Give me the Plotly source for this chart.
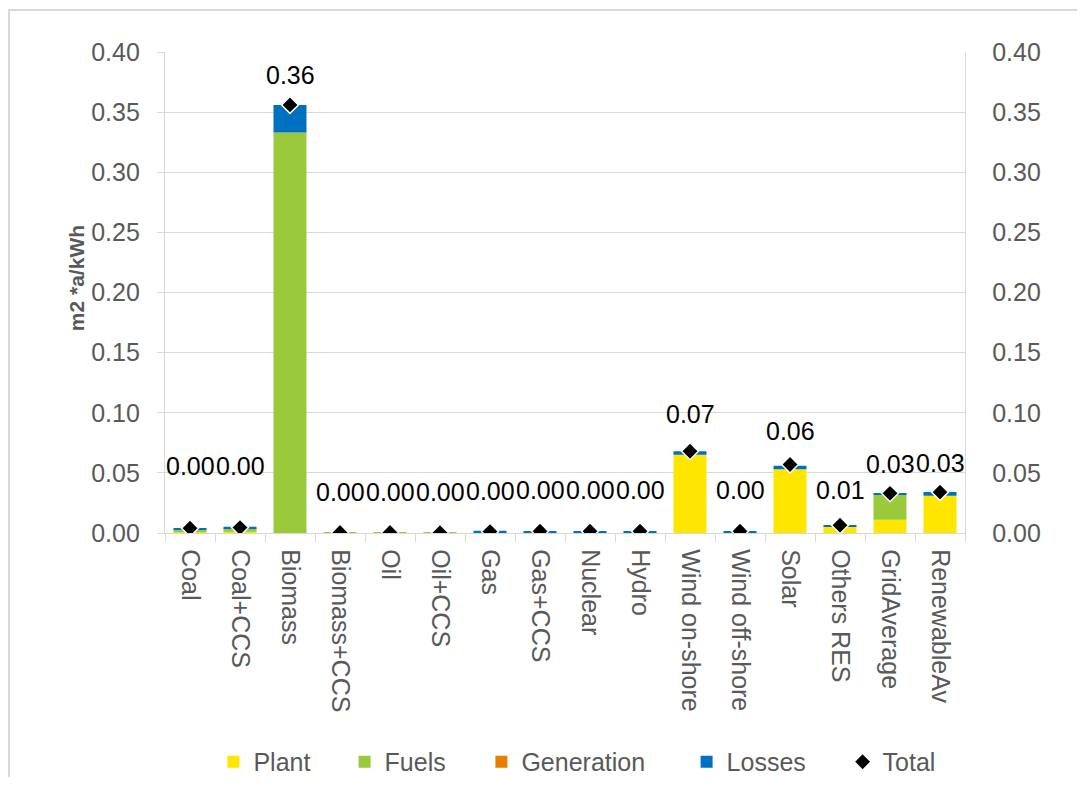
import plotly.graph_objects as go

CATS = ["Coal", "Coal+CCS", "Biomass", "Biomass+CCS", "Oil", "Oil+CCS", "Gas",
        "Gas+CCS", "Nuclear", "Hydro", "Wind on-shore", "Wind off-shore", "Solar",
        "Others RES", "GridAverage", "RenewableAv"]
PLANT = [0.0006, 0.0010, 0.0, 0.0, 0.0, 0.0, 0.0008, 0.0005, 0.0005, 0.0005,
         0.065, 0.0005, 0.053, 0.0050, 0.011, 0.031]
FUELS = [0.0020, 0.0030, 0.333, 0.0004, 0.0004, 0.0002, 0.0, 0.0, 0.0, 0.0,
         0.0, 0.0, 0.0, 0.0, 0.021, 0.0]
GENERATION = [0.0, 0.0, 0.0, 0.0, 0.0, 0.0, -0.0006, 0.0, 0.0, 0.0,
              0.0, 0.0, 0.0, 0.0, 0.0, 0.0]
LOSSES = [0.0012, 0.0012, 0.023, 0.0, 0.0, 0.0, 0.0010, 0.0010, 0.0010, 0.0010,
          0.003, 0.0010, 0.003, 0.0015, 0.001, 0.003]
TOTAL = [0.0040, 0.0045, 0.356, 0.0004, 0.0004, 0.0002, 0.0012, 0.0015, 0.0015, 0.0015,
         0.068, 0.0015, 0.057, 0.0065, 0.033, 0.034]
LABEL_SHIFT = [62, 62, 30, 41, 41, 41, 41, 41, 41, 41, 37, 41, 33, 35, 29, 29]  # px above marker

GREY = "#595959"
GRID = "#D9D9D9"
FONT = "Liberation Sans, Arial, sans-serif"

# one legend per entry so the spacing can follow the Excel original
LEG_X = [0.0605, 0.2245, 0.3955, 0.652, 0.847]
LEG_IDS = ["legend", "legend2", "legend3", "legend4", "legend5"]

fig = go.Figure()
series = [("Plant", PLANT, "#FFE600"), ("Fuels", FUELS, "#9ACA3C"),
          ("Generation", GENERATION, "#E67E00"), ("Losses", LOSSES, "#0070C0")]
for (name, vals, col), lg in zip(series, LEG_IDS):
    fig.add_trace(go.Bar(x=CATS, y=vals, name=name, legend=lg,
                         marker=dict(color=col, line_width=0), width=0.66))
fig.add_trace(go.Scatter(x=CATS, y=TOTAL, name="Total", mode="markers", yaxis="y2",
                         legend=LEG_IDS[4],
                         marker=dict(symbol="diamond", size=13, color="black",
                                     line=dict(color="white", width=1.5))))

for c, t, s in zip(CATS, TOTAL, LABEL_SHIFT):
    fig.add_annotation(x=c, y=t, yref="y2", text=f"{t:.2f}", showarrow=False,
                       yshift=s, font=dict(size=25, color="black", family=FONT))

fig.add_annotation(x=-0.128, y=0.53, xref="paper", yref="paper", text="<b>m2 *a/kWh</b>",
                   textangle=-90, showarrow=False,
                   font=dict(size=21, color=GREY, family=FONT))

ax = dict(range=[0, 0.40], dtick=0.05, tickformat=".2f", showline=True, linecolor=GRID,
          linewidth=1.3, tickfont=dict(size=25, color=GREY), zeroline=False)
layout_legends = {}
for lg, x in zip(LEG_IDS, LEG_X):
    layout_legends[lg] = dict(orientation="h", x=x, xanchor="left", y=-0.476,
                              yanchor="middle", font=dict(size=25, color=GREY),
                              bgcolor="rgba(0,0,0,0)")

fig.update_layout(
    width=1069, height=769, barmode="relative",
    margin=dict(l=157, r=112, t=44, b=244, autoexpand=False),
    plot_bgcolor="white", paper_bgcolor="white",
    font=dict(family=FONT, color=GREY, size=25),
    xaxis=dict(range=[-0.5, len(CATS) - 0.5], tickangle=90, tickson="boundaries",
               ticks="outside", ticklen=8, tickcolor=GRID, tickwidth=1.3, showline=True,
               linecolor=GRID, linewidth=1.3, tickfont=dict(size=25, color=GREY),
               ticklabelstandoff=10),
    yaxis=dict(**ax, showgrid=True, gridcolor=GRID, gridwidth=1.3, ticks="outside",
               ticklen=7, tickcolor=GRID, ticklabelstandoff=12),
    yaxis2=dict(**ax, overlaying="y", side="right", showgrid=False, ticks="",
                ticklabelstandoff=21),
    showlegend=True,
    **layout_legends,
)
fig.add_shape(type="rect", xref="paper", yref="paper", x0=-0.195, x1=1.3, y0=-0.7, y1=1.0873,
              line=dict(color=GRID, width=2), layer="below")

fig.write_html("out.html")
